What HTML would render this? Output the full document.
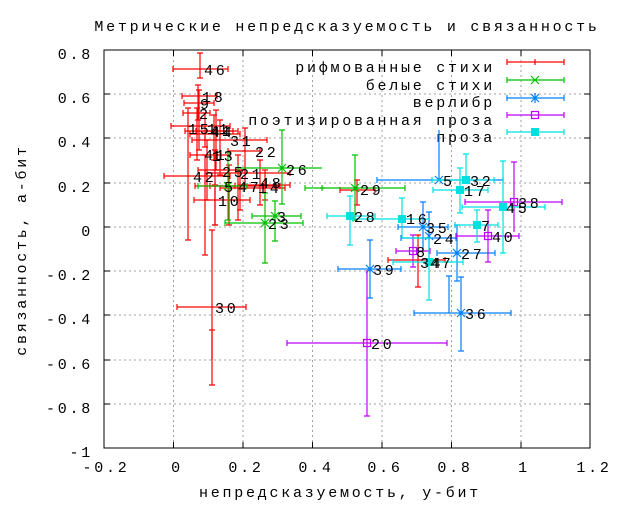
<!DOCTYPE html>
<html><head><meta charset="utf-8"><style>
body{margin:0;background:#fff}
svg text{font-family:"Liberation Mono",monospace;font-size:15px;letter-spacing:2.75px;fill:#000}
</style></head><body>
<svg width="625" height="500" xmlns="http://www.w3.org/2000/svg">
<g stroke="#a0a0a0" stroke-dasharray="2,3" stroke-width="1">
<path d="M173.5 50V448M243 50V448M312.5 50V448M382 50V448M451.5 50V448M521 50V448"/>
<path d="M104 94H590M104 138H590M104 183H590M104 227H590M104 271H590M104 315H590M104 360H590M104 404H590"/>
</g>
<rect x="104" y="50" width="486" height="398" fill="none" stroke="#000"/>
<g stroke="#000">
<path d="M104 94h6M104 138h6M104 183h6M104 227h6M104 271h6M104 315h6M104 360h6M104 404h6M590 94h-6M590 138h-6M590 183h-6M590 227h-6M590 271h-6M590 315h-6M590 360h-6M590 404h-6"/>
<path d="M173.5 448v-6M243 448v-6M312.5 448v-6M382 448v-6M451.5 448v-6M521 448v-6M173.5 50v6M243 50v6M312.5 50v6M382 50v6M451.5 50v6M521 50v6"/>
</g>
<g text-anchor="end">
<text x="93" y="59">0.8</text><text x="93" y="103">0.6</text><text x="93" y="147">0.4</text><text x="93" y="192">0.2</text><text x="93" y="236">0</text><text x="93" y="280">-0.2</text><text x="93" y="324">-0.4</text><text x="93" y="369">-0.6</text><text x="93" y="413">-0.8</text><text x="93" y="457">-1</text>
</g>
<g text-anchor="middle">
<text x="106" y="472">-0.2</text><text x="177" y="472">0</text><text x="246" y="472">0.2</text><text x="316" y="472">0.4</text><text x="385" y="472">0.6</text><text x="455" y="472">0.8</text><text x="524" y="472">1</text><text x="594" y="472">1.2</text>
<text x="347" y="31">Метрические непредсказуемость и связанность</text>
<text x="340" y="497">непредсказуемость, у-бит</text>
<text transform="translate(26,250) rotate(-90)">связанность, а-бит</text>
</g>
<g text-anchor="end">
<text x="495" y="72">рифмованные стихи</text>
<text x="495" y="90">белые стихи</text>
<text x="495" y="107">верлибр</text>
<text x="495" y="125">поэтизированная проза</text>
<text x="495" y="142">проза</text>
</g>
<g fill="none" stroke-width="1.2">
<path stroke="#f00" d="M507 62h57M507 59v6M564 59v6M535 59v6"/>
<path stroke="#00c000" d="M507 80h57M507 77v6M564 77v6M531 76l8 8M531 84l8-8"/>
<path stroke="#0080ff" d="M507 98h57M507 95v6M564 95v6M531 94l8 8M531 102l8-8M535 93v10M530 98h10"/>
<path stroke="#c000ff" d="M507 115h57M507 112v6M564 112v6M531.5 111.5h7v7h-7z"/>
<path stroke="#00e0e0" d="M507 132h57M507 129v6M564 129v6"/>
</g>
<rect x="531" y="128" width="8" height="8" fill="#00e0e0"/>

<g stroke="#f00" fill="none" stroke-width="1.2">
<path d="M173 69h55M173 66v6M228 66v6M200 53v25M197 53h6M197 78h6"/>
<path d="M182 96h35M182 93v6M217 93v6M198 85v35M195 85h6M195 120h6"/>
<path d="M184 103h30M184 100v6M214 100v6M199 90v60M196 90h6M196 150h6"/>
<path d="M183 113h27M183 110v6M210 110v6M197 108v52M194 108h6M194 160h6"/>
<path d="M171 126h59M171 123v6M230 123v6M188 108v132M185 108h6M185 240h6"/>
<path d="M185 131h48M185 128v6M233 128v6M205 113v34M202 113h6M202 147h6"/>
<path d="M196 131h42M196 128v6M238 128v6M214 115v45M211 115h6M211 160h6"/>
<path d="M190 134h50M190 131v6M240 131v6M216 110v60M213 110h6M213 170h6"/>
<path d="M192 140h75M192 137v6M267 137v6M220 120v55M217 120h6M217 175h6"/>
<path d="M228 151h32M228 148v6M260 148v6M245 128v57M242 128h6M242 185h6"/>
<path d="M190 155h40M190 152v6M230 152v6M207 140v60M204 140h6M204 200h6"/>
<path d="M198 170h47M198 167v6M245 167v6M215 150v75M212 150h6M212 225h6"/>
<path d="M205 173h85M205 170v6M290 170v6M238 155v65M235 155h6M235 220h6"/>
<path d="M164 176h66M164 173v6M230 173v6M205 155v100M202 155h6M202 255h6"/>
<path d="M195 186h40M195 183v6M235 183v6M229 165v60M226 165h6M226 225h6"/>
<path d="M210 186h70M210 183v6M280 183v6M240 170v40M237 170h6M237 210h6"/>
<path d="M220 188h65M220 185v6M285 185v6M260 160v45M257 160h6M257 205h6"/>
<path d="M238 185h52M238 182v6M290 182v6M265 170v30M262 170h6M262 200h6"/>
<path d="M194 200h56M194 197v6M250 197v6M215 185v40M212 185h6M212 225h6"/>
<path d="M177 307h69M177 304v6M246 304v6M212 230v155M209 230h6M209 385h6"/>
<path d="M340 190h35M340 187v6M375 187v6M357 180v25M354 180h6M354 205h6"/>
<path d="M388 260h57M388 257v6M445 257v6M418 235v52M415 235h6M415 287h6"/>
<path d="M212 330v30M209 330h6"/>
</g>
<g stroke="#00c000" fill="none" stroke-width="1.2">
<path d="M238 168h84M238 165v6M282 130v74M279 130h6M279 204h6M278 164l8 8M278 172l8-8"/>
<path d="M198 186h49M198 183v6M247 183v6M228 152v68M225 152h6M225 220h6M224 182l8 8M224 190l8-8"/>
<path d="M252 216h49M252 213v6M301 213v6M275 201v40M272 201h6M272 241h6M271 212l8 8M271 220l8-8"/>
<path d="M225 223h78M225 220v6M303 220v6M265 193v70M262 193h6M262 263h6M261 219l8 8M261 227l8-8"/>
<path d="M305 188h100M305 185v6M405 185v6M355 155v65M352 155h6M352 220h6M351 184l8 8M351 192l8-8"/>
<path d="M320 188h5M322 185v6"/>
</g>
<g stroke="#0080ff" fill="none" stroke-width="1.2">
<path d="M377 180h126M377 177v6M503 177v6M439 130v50M435 176l8 8M435 184l8-8"/>
<path d="M398 227h50M398 224v6M448 224v6M423 202v50M420 202h6M419 223l8 8M419 231l8-8"/>
<path d="M401 238h55M401 235v6M456 235v6M429 212v50M426 212h6M425 232l8 8M425 240l8-8"/>
<path d="M437 253h58M437 250v6M495 250v6M457 225v56M454 225h6M454 281h6M453 249l8 8M453 257l8-8"/>
<path d="M338 269h63M338 266v6M401 266v6M370 240v58M367 240h6M367 298h6M366 265l8 8M366 273l8-8"/>
<path d="M414 313h97M414 310v6M511 310v6M461 277v74M458 277h6M458 351h6M457 309l8 8M457 317l8-8"/>
<path d="M449 276v37M446 276h6"/>
</g>
<g stroke="#c000ff" fill="none" stroke-width="1.2">
<path d="M465 202h97M465 199v6M562 199v6M514 162v70M511 162h6M510.5 198.5h7v7h-7z"/>
<path d="M456 236h63M456 233v6M519 233v6M488 210v52M485 210h6M485 262h6M484.5 232.5h7v7h-7z"/>
<path d="M396 251h34M396 248v6M430 248v6M413 235v32M410 235h6M410 267h6M409.5 247.5h7v7h-7z"/>
<path d="M287 343h160M287 340v6M447 340v6M367 270v146M364 416h6M363.5 339.5h7v7h-7z"/>
</g>
<g stroke="#00e0e0" fill="none" stroke-width="1.2">
<path d="M432 180h62M432 177v6M494 177v6M466 154v30M463 154h6"/>
<path d="M433 190h55M433 187v6M488 187v6M460 168v45M457 168h6M457 213h6"/>
<path d="M462 207h83M462 204v6M545 204v6M503 161v92M500 161h6M500 253h6"/>
<path d="M455 225h43M455 222v6M498 222v6M477 210v32M474 210h6M474 242h6"/>
<path d="M327 216h48M327 213v6M375 213v6M350 196v49M347 196h6M347 245h6"/>
<path d="M353 219h77M353 216v6M402 198v40M399 198h6M402 238h30"/>
<path d="M393 262h70M393 259v6M463 259v6M429 240v60M426 300h6"/>
</g>
<g fill="#00e0e0">
<rect x="462" y="176" width="8" height="8"/><rect x="456" y="186" width="8" height="8"/><rect x="499" y="203" width="8" height="8"/><rect x="473" y="221" width="8" height="8"/><rect x="346" y="212" width="8" height="8"/><rect x="398" y="215" width="8" height="8"/><rect x="425" y="258" width="8" height="8"/>
</g>
<g>
<text x="204" y="75">46</text><text x="202" y="102">18</text><text x="200" y="109">9</text><text x="199" y="119">2</text>
<text x="188" y="134">15</text><text x="207" y="134">11</text><text x="210" y="136">41</text><text x="211" y="137">44</text>
<text x="230" y="146">31</text><text x="255" y="157">22</text><text x="204" y="160">41</text><text x="212" y="161">13</text>
<text x="222" y="177">25</text><text x="240" y="179">21</text><text x="193" y="182">42</text>
<text x="224" y="192">5</text><text x="238" y="192">47</text><text x="258" y="193">14</text><text x="260" y="188">48</text>
<text x="218" y="206">10</text><text x="286" y="175">26</text><text x="277" y="222">3</text><text x="268" y="229">23</text>
<text x="215" y="313">30</text><text x="360" y="195">29</text><text x="443" y="186">5</text><text x="470" y="186">32</text>
<text x="464" y="196">17</text><text x="506" y="213">45</text><text x="518" y="208">38</text><text x="481" y="231">7</text>
<text x="354" y="222">28</text><text x="406" y="224">16</text><text x="426" y="233">35</text><text x="433" y="244">24</text>
<text x="492" y="242">40</text><text x="416" y="257">8</text><text x="461" y="259">27</text><text x="420" y="268">34</text><text x="430" y="268">47</text>
<text x="373" y="275">39</text><text x="465" y="319">36</text><text x="371" y="349">20</text>
</g>
</svg>
</body></html>
